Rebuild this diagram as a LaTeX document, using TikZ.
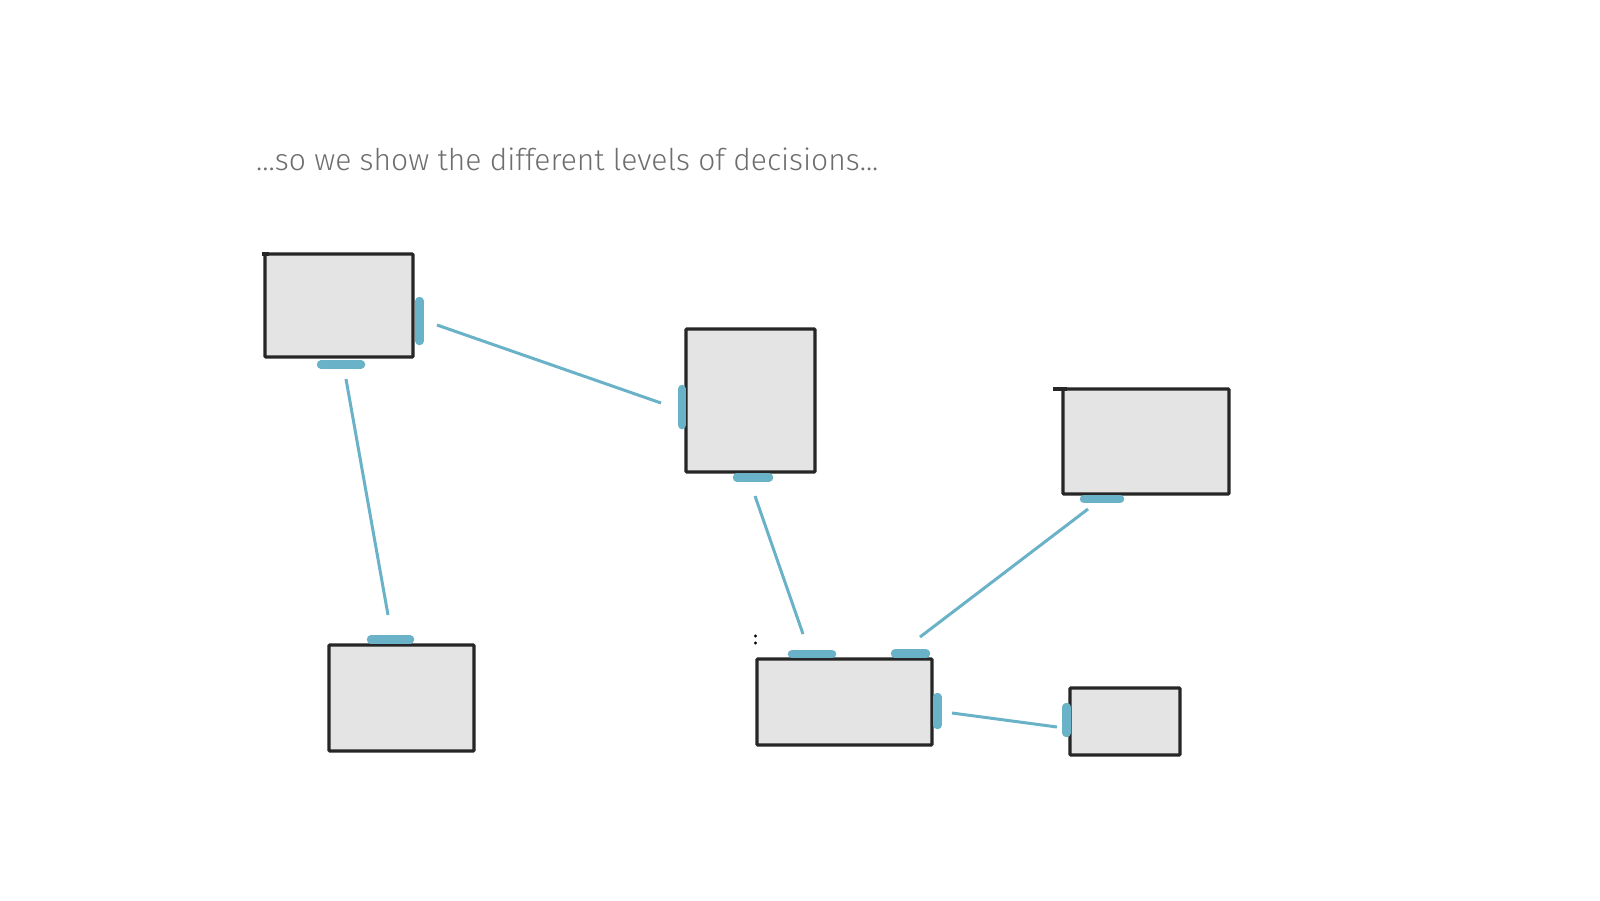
\documentclass[tikz,border=0pt]{standalone}
\usepackage{fontspec}
\setmainfont{Fira Sans}[UprightFont=* Light]
\definecolor{tabblue}{HTML}{6AB2C8}
\definecolor{boxfill}{HTML}{E4E4E4}
\definecolor{txtgray}{HTML}{6E6E6E}
\tikzset{
  box/.style={draw=black!85, line width=3.3pt, fill=boxfill, rounded corners=1pt, inner sep=0pt, outer sep=0pt},
  tab/.style={draw=tabblue, line width=8.5pt, line cap=round},
  link/.style={draw=tabblue, line width=3pt},
}
\begin{document}
\begin{tikzpicture}[x=1pt,y=-1pt]
\useasboundingbox (0,0) rectangle (1600,900);
\node[anchor=base west, text=txtgray, font=\fontsize{30}{36}\selectfont, inner sep=0pt] (title) at (256,170) {...so we show the different levels of decisions...};
% boxes
\node[box, minimum width=148pt, minimum height=103pt] (b1) at (339,305.5) {};
\node[box, minimum width=129pt, minimum height=143pt] (b2) at (750.5,400.5) {};
\node[box, minimum width=166pt, minimum height=105pt] (b3) at (1146,441.5) {};
\node[box, minimum width=145pt, minimum height=106pt] (b4) at (401.5,698) {};
\node[box, minimum width=175pt, minimum height=86pt] (b5) at (844.5,702) {};
\node[box, minimum width=110pt, minimum height=67pt] (b6) at (1125,721.5) {};
% top-edge overhangs
\draw[black!85, line width=3.3pt] (b1.north west) ++(4,0) -- ++(-7,0);
\draw[black!85, line width=3.3pt] (b3.north west) ++(4,0) -- ++(-14,0);
% tabs
\draw[tab] (419.5,301) -- (419.5,341);
\draw[tab] (321,364.5) -- (361,364.5);
\draw[tab] (682,389) -- (682,425);
\draw[tab] (737,477.5) -- (769,477.5);
\draw[tab] (1084,499) -- (1120,499);
\draw[tab] (371,639.5) -- (410,639.5);
\draw[tab] (792,654) -- (832,654);
\draw[tab] (895,653.5) -- (926,653.5);
\draw[tab] (937.5,697) -- (937.5,725);
\draw[tab] (1066.5,707) -- (1066.5,733);
% connector ends
\coordinate (l1a) at (437,325); \coordinate (l1b) at (661,403);
\coordinate (l2a) at (346,379); \coordinate (l2b) at (388,615);
\coordinate (l3a) at (755,496); \coordinate (l3b) at (803,634);
\coordinate (l4a) at (1088,509); \coordinate (l4b) at (920,637);
\coordinate (l5a) at (952,713); \coordinate (l5b) at (1057,727);
\draw[link] (l1a) -- (l1b);
\draw[link] (l2a) -- (l2b);
\draw[link] (l3a) -- (l3b);
\draw[link] (l4a) -- (l4b);
\draw[link] (l5a) -- (l5b);
% small marks
\fill[black] (755.5,636) circle (1.6pt);
\fill[black] (755.5,643) circle (1.6pt);
\end{tikzpicture}
\end{document}
